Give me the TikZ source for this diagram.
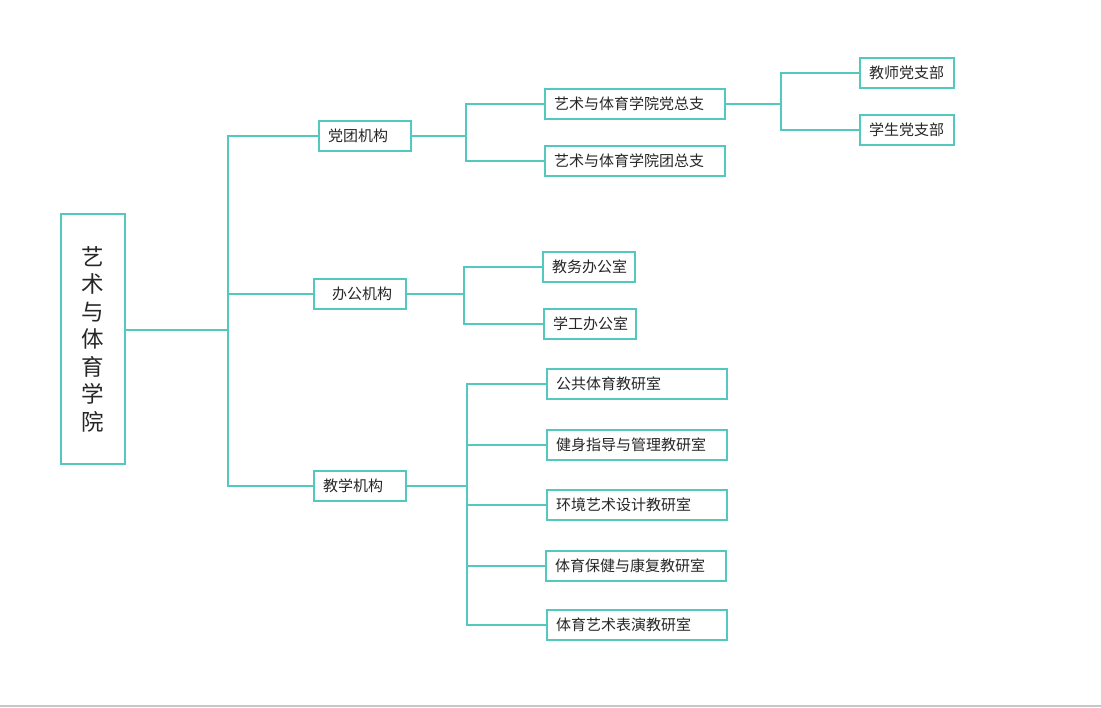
\documentclass[tikz,border=0pt]{standalone}
\usepackage{fontspec}
\usepackage{xcolor}
\newfontfamily\cjk{Noto Sans CJK SC}
\definecolor{linecyan}{RGB}{82,200,190}

\begin{document}
\begin{tikzpicture}[x=1pt, y=-1pt,
    link/.style={draw=linecyan, line width=2pt},
    unit/.style={draw=linecyan, line width=2pt, font=\cjk\fontsize{15}{18}\selectfont,
        minimum height=30, inner xsep=9, inner ysep=0, align=left, text=black!85},
    small/.style={unit, text width=74},
    wide/.style={unit, text width=162},
    rootbox/.style={draw=linecyan, line width=2pt, font=\cjk\fontsize{22.5}{27.5}\selectfont,
        minimum width=64, minimum height=250, align=center, text=black!85}]
    \useasboundingbox (0,0) rectangle (1101,708);
    \draw[draw=black!22, line width=1.5pt] (0,706) -- (1101,706);

    \node [rootbox] (root) at (93,339) {艺\\术\\与\\体\\育\\学\\院};

    \node [small] (dangtuan) at (365,136) {党团机构};
    \node [small] (bangong) at (360,294) {\hspace*{9pt}办公机构};
    \node [small] (jiaoxue) at (360,486) {教学机构};

    \node [wide] (dzz) at (635,104) {艺术与体育学院党总支};
    \node [wide] (tzz) at (635,161) {艺术与体育学院团总支};
    \node [small, text width=76] (jsdzb) at (907,73) {教师党支部};
    \node [small, text width=76] (xsdzb) at (907,130) {学生党支部};

    \node [small] (jwbgs) at (589,267) {教务办公室};
    \node [small] (xgbgs) at (590,324) {学工办公室};

    \node [wide] (ggty) at (637,384) {公共体育教研室};
    \node [wide] (jszd) at (637,445) {健身指导与管理教研室};
    \node [wide] (hjys) at (637,505) {环境艺术设计教研室};
    \node [wide] (tybj) at (636,566) {体育保健与康复教研室};
    \node [wide] (tyys) at (637,625) {体育艺术表演教研室};

    \coordinate (trunk) at (228,330);
    \coordinate (busA) at (466,136);
    \coordinate (busB) at (781,104);
    \coordinate (busC) at (464,294);
    \coordinate (busD) at (467,489);

    \draw [link] (root.east |- trunk) -- (trunk);
    \draw [link] (dangtuan.west) -- (dangtuan.west -| trunk) -- (jiaoxue.west -| trunk) -- (jiaoxue.west);
    \draw [link] (bangong.west) -- (bangong.west -| trunk);

    \draw [link] (dangtuan.east) -- (dangtuan.east -| busA);
    \draw [link] (dzz.west) -- (dzz.west -| busA) -- (tzz.west -| busA) -- (tzz.west);

    \draw [link] (dzz.east) -- (busB);
    \draw [link] (jsdzb.west) -- (jsdzb.west -| busB) -- (xsdzb.west -| busB) -- (xsdzb.west);

    \draw [link] (bangong.east) -- (bangong.east -| busC);
    \draw [link] (jwbgs.west) -- (jwbgs.west -| busC) -- (xgbgs.west -| busC) -- (xgbgs.west);

    \draw [link] (jiaoxue.east) -- (jiaoxue.east -| busD);
    \draw [link] (ggty.west) -- (ggty.west -| busD) -- (tyys.west -| busD) -- (tyys.west);
    \draw [link] (jszd.west) -- (jszd.west -| busD);
    \draw [link] (hjys.west) -- (hjys.west -| busD);
    \draw [link] (tybj.west) -- (tybj.west -| busD);
\end{tikzpicture}
\end{document}
